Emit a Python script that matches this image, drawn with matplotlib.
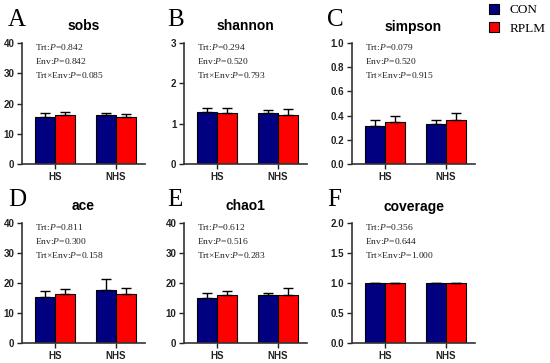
import numpy as np
import matplotlib
matplotlib.use('Agg')
import matplotlib.pyplot as plt
from matplotlib.patches import Patch

# DATOS
grupos = ['HS', 'NHS']
paneles = ['sobs', 'shannon', 'simpson', 'ace', 'chao1', 'coverage']
letras = ['A', 'B', 'C', 'D', 'E', 'F']

con_media = [[15.5, 16.2], [1.30, 1.27], [0.314, 0.328], [15.4, 17.6], [15.1, 16.1], [0.997, 0.997]]
con_err   = [[1.5, 0.6], [0.10, 0.08], [0.050, 0.038], [1.9, 3.8], [1.7, 0.7], [0.006, 0.006]]
rplm_media = [[16.2, 15.6], [1.26, 1.22], [0.350, 0.360], [16.5, 16.2], [16.1, 16.1], [0.997, 0.997]]
rplm_err   = [[1.1, 1.0], [0.12, 0.14], [0.044, 0.060], [1.5, 2.1], [1.3, 2.1], [0.006, 0.006]]

ymax = [40, 3, 1.0, 40, 40, 2.0]
yticks = [[0, 10, 20, 30, 40], [0, 1, 2, 3], [0.0, 0.2, 0.4, 0.6, 0.8, 1.0],
          [0, 10, 20, 30, 40], [0, 10, 20, 30, 40], [0.0, 0.5, 1.0, 1.5, 2.0]]
yfmt = ['{:.0f}', '{:.0f}', '{:.1f}', '{:.0f}', '{:.0f}', '{:.1f}']

p_trt = ['0.842', '0.294', '0.079', '0.811', '0.612', '0.356']
p_env = ['0.842', '0.520', '0.520', '0.300', '0.516', '0.644']
p_int = ['0.085', '0.793', '0.915', '0.158', '0.283', '1.000']

# ESTILO
plt.rcParams['mathtext.fontset'] = 'custom'
plt.rcParams['mathtext.rm'] = 'Liberation Serif'
plt.rcParams['mathtext.it'] = 'Liberation Serif:italic'
azul = '#000080'
rojo = '#FF0000'
sans = 'Liberation Sans'
serif = 'Liberation Serif'

fig = plt.figure(figsize=(5.5, 3.63), dpi=100)
W, H = 550.0, 363.0
lefts = [22, 184, 352]
rows = [(43, 164), (223, 343)]
ancho = 123

x = np.arange(len(grupos))
bw = 0.33

for k in range(6):
    r, c = divmod(k, 3)
    top, bot = rows[r]
    ax = fig.add_axes([lefts[c] / W, 1 - bot / H, ancho / W, (bot - top) / H])
    ax.bar(x - bw, con_media[k], bw, align='edge', color=azul, edgecolor='black', linewidth=0.8, zorder=2)
    ax.bar(x, rplm_media[k], bw, align='edge', color=rojo, edgecolor='black', linewidth=0.8, zorder=2)
    ax.errorbar(x - bw / 2, con_media[k], yerr=[np.zeros(2), con_err[k]], fmt='none',
                ecolor='black', elinewidth=1.0, capsize=3.5, capthick=1.0, zorder=3)
    ax.errorbar(x + bw / 2, rplm_media[k], yerr=[np.zeros(2), rplm_err[k]], fmt='none',
                ecolor='black', elinewidth=1.0, capsize=3.5, capthick=1.0, zorder=3)
    ax.set_xlim(-0.54, 1.475)
    ax.set_ylim(0, ymax[k])
    ax.set_yticks(yticks[k])
    ax.set_yticklabels([yfmt[k].format(v) for v in yticks[k]], fontfamily=sans, fontweight='bold', fontsize=7)
    ax.set_xticks(x)
    ax.set_xticklabels(grupos, fontfamily=sans, fontweight='bold', fontsize=7)
    ax.tick_params(axis='both', direction='out', length=3.5, width=1.0, pad=2, colors='#222222')
    for s in ['top', 'right']:
        ax.spines[s].set_visible(False)
    for s in ['left', 'bottom']:
        ax.spines[s].set_linewidth(1.2)
        ax.spines[s].set_color('#333333')
    ax.set_title(paneles[k], fontfamily=sans, fontweight='bold', fontsize=10, pad=9)
    txt = ('Trt:$P$=' + p_trt[k] + '\nEnv:$P$=' + p_env[k] + '\nTrt\u00d7Env:$P$=' + p_int[k])
    ax.text(0.105, 1.01, txt, transform=ax.transAxes, ha='left', va='top',
            fontfamily=serif, fontsize=6.8, linespacing=1.5, color='#222222')
    fig.text((lefts[c] - [14, 17, 25][c]) / W, 1 - (top - 17) / H, letras[k],
             fontfamily=serif, fontsize=18, ha='left', va='baseline')

handles = [Patch(facecolor=azul, edgecolor='black', linewidth=0.8),
           Patch(facecolor=rojo, edgecolor='black', linewidth=0.8)]
fig.legend(handles, ['CON', 'RPLM'], loc='upper left', bbox_to_anchor=(489 / W, 1 - 4 / H),
           frameon=False, prop={'family': serif, 'size': 9.5}, handlelength=0.75,
           handleheight=0.75, handletextpad=0.8, labelspacing=0.45, borderpad=0, borderaxespad=0)

fig.savefig('out.png', dpi=100)
